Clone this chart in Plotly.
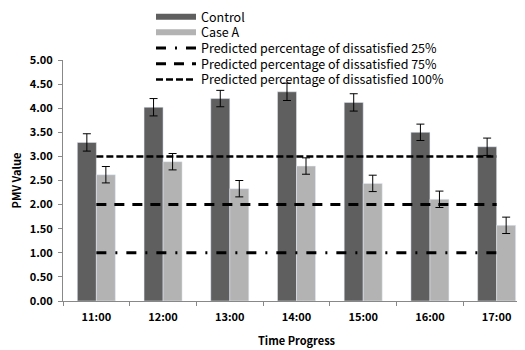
import plotly.graph_objects as go

categories = ["11:00", "12:00", "13:00", "14:00", "15:00", "16:00", "17:00"]
control = [3.29, 4.02, 4.20, 4.34, 4.12, 3.50, 3.20]
control_err = [0.18, 0.18, 0.17, 0.18, 0.18, 0.17, 0.18]
case_a = [2.62, 2.89, 2.33, 2.80, 2.44, 2.11, 1.57]
case_a_err = [0.17, 0.17, 0.17, 0.17, 0.17, 0.17, 0.17]
ppd25 = [1.0] * len(categories)
ppd75 = [2.0] * len(categories)
ppd100 = [3.0] * len(categories)
yticks = [0, 0.5, 1, 1.5, 2, 2.5, 3, 3.5, 4, 4.5, 5]

FONT = "Noto Sans CJK KR"
c_ctrl = "#5f5f5f"
c_case = "#b3b3b3"

fig = go.Figure()
fig.add_trace(go.Bar(x=categories, y=control, marker_color=c_ctrl, showlegend=False,
                     error_y=dict(type="data", array=control_err, color="black", thickness=1, width=4)))
fig.add_trace(go.Bar(x=categories, y=case_a, marker_color=c_case, showlegend=False,
                     error_y=dict(type="data", array=case_a_err, color="black", thickness=1, width=4)))
# legend proxies for bars
fig.add_trace(go.Scatter(x=[None], y=[None], mode="lines", name="Control",
                         line=dict(color=c_ctrl, width=6), legend="legend"))
fig.add_trace(go.Scatter(x=[None], y=[None], mode="lines", name="Case A",
                         line=dict(color=c_case, width=6), legend="legend2"))
fig.add_trace(go.Scatter(x=categories, y=ppd25, mode="lines",
                         name="Predicted percentage of dissatisfied 25%", legend="legend3",
                         line=dict(color="black", width=3, dash="10px,9px,2px,9px")))
fig.add_trace(go.Scatter(x=categories, y=ppd75, mode="lines",
                         name="Predicted percentage of dissatisfied 75%", legend="legend4",
                         line=dict(color="black", width=3, dash="10px,8px")))
fig.add_trace(go.Scatter(x=categories, y=ppd100, mode="lines",
                         name="Predicted percentage of dissatisfied 100%", legend="legend5",
                         line=dict(color="black", width=2.5, dash="7px,3px")))

L, T, R, B = 55, 52, 3, 57
PW, PH = 525 - L - R, 350 - T - B


def leg(i):
    return dict(x=(143 - L) / PW, y=1 + (T + 6 - 15.7 * i) / PH,
                xanchor="left", yanchor="top", font=dict(size=12.5, family=FONT),
                bgcolor="rgba(0,0,0,0)", itemwidth=40)


fig.update_layout(
    width=525, height=350,
    margin=dict(l=L, r=R, t=T, b=B, autoexpand=False),
    paper_bgcolor="white", plot_bgcolor="white",
    barmode="group", bargap=0.43, bargroupgap=0,
    font=dict(family=FONT, size=11, color="black"),
    legend=leg(0), legend2=leg(1), legend3=leg(2), legend4=leg(3), legend5=leg(4),
    xaxis=dict(type="category", range=[-0.5, 6.5], showline=True, linecolor="#888888",
               linewidth=1, ticks="outside", tickson="boundaries", ticklen=4,
               tickcolor="#888888", showgrid=False, ticklabelstandoff=6,
               tickfont=dict(size=11, family=FONT, weight="bold"),
               title=dict(text="Time Progress", font=dict(size=11, family=FONT, weight="bold"),
                          standoff=14)),
    yaxis=dict(range=[0, 5], tickvals=yticks, tickformat=".2f", showline=True,
               linecolor="#888888", linewidth=1, ticks="outside", ticklen=4,
               tickcolor="#888888", showgrid=False, zeroline=False, ticklabelstandoff=3,
               tickfont=dict(size=11, family=FONT, weight="bold"),
               title=dict(text="PMV Value", font=dict(size=11, family=FONT, weight="bold"),
                          standoff=6)),
)

fig.write_html("out.html")
